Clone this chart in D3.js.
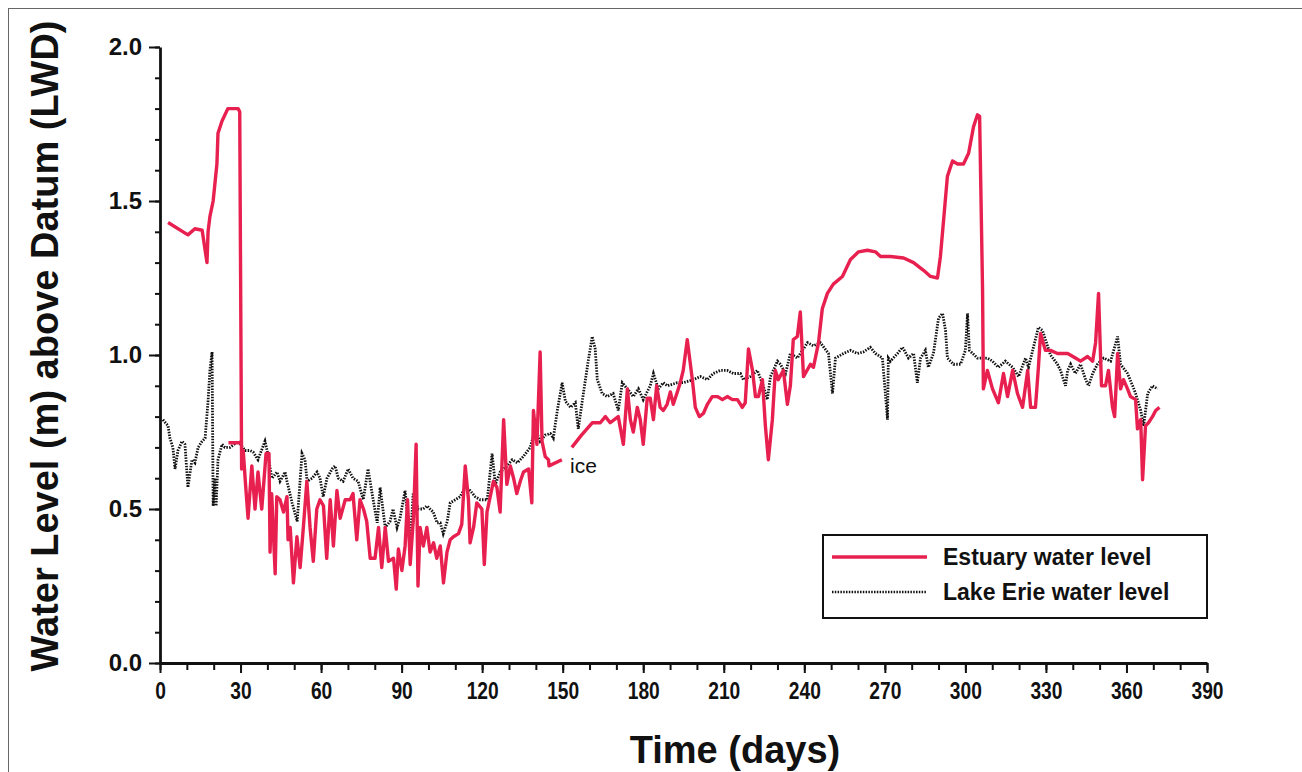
<!DOCTYPE html>
<html>
<head>
<meta charset="utf-8">
<script src="https://cdn.jsdelivr.net/npm/d3@7"></script>
<style>
  body { margin: 0; background: #fff; }
  svg text { font-family: "Liberation Sans", Arial, sans-serif; fill: #111; }
</style>
</head>
<body>
<div id="vis"></div>
<script>
const W = 1302, H = 772;
const margin = { top: 47, left: 160 };

// estuary water level (m above LWD); null = break in the record
const estuaryDay = [
  25.5, 30.0, null,
  3.0, 10.4, 13.0, 15.7, 17.5, 17.9, 18.6, 19.8, 21.2, 21.6, 23.1, 25.3, 29.1, 29.7,
  30.4, 31.0, 31.7, 32.8, 34.2, 35.4, 36.5, 37.9, 39.5, 40.6, 41.0, 41.6, 42.9, 43.5,
  44.7, 46.0, 47.3, 47.7, 48.5, 49.7, 51.0, 52.2, 53.4, 54.7, 55.9, 57.1, 58.4, 59.6,
  60.9, 62.1, 63.4, 64.6, 65.9, 67.1, 69.0, 70.8, 71.9, 73.3, 74.5, 75.8, 77.0, 78.3,
  80.1, 81.4, 82.6, 83.9, 85.1, 87.0, 88.0, 88.8, 90.1, 91.3, 92.2, 93.2, 94.4, 95.4,
  96.1, 96.9, 98.1, 99.4, 100.6, 101.9, 103.1, 104.4, 105.6, 106.9, 108.1, 109.3, 111.2,
  112.4, 113.7, 114.9, 115.5, 116.8, 118.0, 119.9, 120.8, 121.8, 123.0, 124.2, 125.5,
  126.7, 128.0, 129.2, 130.5, 131.7, 132.9, 134.2, 135.4, 137.3, 138.5, 139.1, 140.4,
  141.6, 142.3, 143.5, 144.7, 144.9, 149.7, null,
  153.4, 157.0, 161.0, 164.0, 165.9, 167.7, 170.7, 172.6, 174.1, 175.2, 176.3, 177.8,
  178.9, 180.0, 181.5, 182.6, 183.8, 185.0, 186.3, 187.5, 188.9, 190.1, 191.2, 192.7,
  193.8, 194.9, 196.4, 198.3, 199.4, 200.9, 202.4, 203.9, 205.7, 207.6, 209.5, 211.3,
  213.2, 215.1, 216.9, 218.0, 219.2, 220.7, 221.8, 222.9, 224.4, 225.5, 226.6, 228.1,
  229.2, 230.3, 232.2, 233.7, 234.8, 235.9, 237.4, 238.5, 239.7, 242.3, 243.4, 245.3,
  246.7, 248.6, 250.8, 254.2, 257.2, 260.2, 263.5, 266.5, 268.4, 272.1, 277.0, 280.7,
  284.4, 287.0, 289.6, 290.7, 291.8, 293.3, 295.2, 297.1, 299.3, 301.2, 303.0, 304.5,
  305.3, 306.4, 306.7, 308.2, 310.1, 312.3, 314.2, 315.7, 317.6, 319.4, 321.3, 323.2,
  324.3, 326.1, 327.2, 328.0, 329.8, 331.7, 334.3, 338.1, 341.0, 342.9, 345.5, 347.4,
  348.5, 349.6, 350.7, 352.2, 353.3, 354.8, 355.6, 356.7, 357.8, 358.9, 360.4, 361.5,
  363.4, 364.1, 365.3, 366.0, 367.1, 368.2, 369.7, 370.9, 372.3
];
const estuaryLevel = [
  0.715, 0.715, null,
  1.43, 1.39, 1.41, 1.405, 1.30, 1.40, 1.45, 1.50, 1.62, 1.72, 1.76, 1.80, 1.80, 1.79,
  0.63, 0.69, 0.60, 0.47, 0.64, 0.50, 0.62, 0.50, 0.68, 0.68, 0.36, 0.55, 0.29, 0.54,
  0.53, 0.49, 0.54, 0.40, 0.44, 0.26, 0.41, 0.31, 0.44, 0.59, 0.44, 0.33, 0.50, 0.53,
  0.51, 0.34, 0.53, 0.38, 0.56, 0.47, 0.53, 0.53, 0.55, 0.40, 0.53, 0.50, 0.46, 0.34,
  0.34, 0.44, 0.31, 0.44, 0.33, 0.34, 0.24, 0.37, 0.30, 0.38, 0.53, 0.32, 0.47, 0.71,
  0.25, 0.44, 0.38, 0.44, 0.36, 0.39, 0.34, 0.38, 0.26, 0.36, 0.40, 0.41, 0.42,
  0.45, 0.64, 0.53, 0.39, 0.44, 0.52, 0.50, 0.32, 0.49, 0.54, 0.59, 0.57,
  0.49, 0.79, 0.58, 0.64, 0.60, 0.55, 0.59, 0.62, 0.63, 0.52, 0.82, 0.71,
  1.01, 0.72, 0.67, 0.66, 0.64, 0.66, null,
  0.70, 0.74, 0.78, 0.78, 0.80, 0.78, 0.80, 0.71, 0.89, 0.79, 0.75, 0.83,
  0.79, 0.71, 0.86, 0.86, 0.79, 0.90, 0.83, 0.82, 0.84, 0.88, 0.84, 0.88,
  0.91, 0.95, 1.05, 0.92, 0.83, 0.80, 0.81, 0.84, 0.865, 0.865, 0.855, 0.865,
  0.855, 0.855, 0.83, 0.845, 1.02, 0.95, 0.865, 0.865, 0.92, 0.77, 0.66, 0.79,
  0.95, 0.92, 0.95, 0.84, 0.90, 1.05, 1.06, 1.14, 0.93, 0.97, 0.96, 1.04,
  1.15, 1.20, 1.23, 1.255, 1.31, 1.335, 1.34, 1.335, 1.32, 1.32, 1.315, 1.30,
  1.275, 1.255, 1.25, 1.32, 1.43, 1.58, 1.63, 1.62, 1.62, 1.655, 1.74, 1.78,
  1.775, 1.21, 0.89, 0.95, 0.89, 0.845, 0.94, 0.865, 0.95, 0.875, 0.83, 0.95,
  0.83, 0.83, 0.96, 1.07, 1.015, 1.015, 1.005, 1.005, 0.99, 0.98, 0.995, 0.98,
  1.04, 1.20, 0.90, 0.90, 0.95, 0.83, 0.80, 1.005, 0.89, 0.92, 0.89, 0.865,
  0.855, 0.76, 0.79, 0.595, 0.77, 0.78, 0.80, 0.82, 0.83
];

// Lake Erie water level (m above LWD)
const lakeDay = [
  1.1, 3.0, 3.7, 4.8, 5.6, 6.7, 8.2, 9.3, 10.4, 11.9, 13.0, 14.2, 15.7, 16.8, 17.9,
  18.6, 19.4, 19.8, 20.5, 20.9, 21.6, 23.1, 24.2, 26.1, 29.1, 31.7, 33.5, 34.7, 36.5,
  39.1, 39.9, 41.7, 43.6, 44.7, 46.6, 47.3, 49.2, 51.1, 52.9, 54.0, 54.8, 56.7, 58.5,
  59.6, 60.8, 62.2, 64.1, 65.2, 66.4, 68.2, 70.1, 71.9, 73.8, 75.7, 77.5, 79.4, 80.9,
  82.0, 83.9, 85.7, 86.8, 88.3, 89.4, 91.3, 93.2, 94.3, 96.2, 98.0, 99.5, 100.6, 101.8,
  103.2, 104.4, 105.5, 107.0, 108.1, 110.0, 111.8, 113.7, 115.5, 117.4, 119.3, 121.9,
  123.7, 124.9, 126.7, 129.3, 131.2, 133.1, 135.3, 137.9, 139.8, 141.6, 143.5, 145.4,
  146.5, 148.0, 149.8, 151.0, 152.9, 154.7, 155.8, 157.7, 159.5, 161.0, 162.1, 162.9,
  164.7, 166.6, 168.8, 170.7, 172.2, 174.1, 176.3, 178.2, 180.0, 182.6, 183.8, 185.6,
  187.5, 189.0, 192.7, 194.9, 198.7, 201.3, 203.9, 206.1, 208.7, 211.3, 213.6, 216.2,
  217.3, 219.9, 222.5, 224.7, 226.2, 227.4, 230.0, 231.1, 233.0, 234.8, 237.4, 241.2,
  243.4, 246.0, 249.0, 250.5, 251.6, 254.6, 257.2, 259.8, 262.0, 264.6, 266.5, 269.1,
  271.0, 271.3, 272.1, 274.7, 276.6, 278.8, 280.7, 282.1, 283.3, 285.1, 286.2, 288.1,
  290.0, 291.5, 292.6, 293.3, 295.6, 298.2, 300.0, 300.8, 301.5, 304.5, 308.2, 310.1,
  312.3, 314.9, 317.6, 319.8, 322.4, 323.5, 327.2, 328.7, 331.7, 334.3, 335.4, 337.3,
  338.1, 339.2, 341.0, 342.9, 344.8, 345.9, 347.4, 349.2, 351.5, 354.1, 356.7, 357.8,
  360.4, 362.3, 363.4, 365.3, 366.4, 367.9, 369.7, 371.6
];
const lakeLevel = [
  0.79, 0.77, 0.73, 0.70, 0.63, 0.69, 0.72, 0.71, 0.57, 0.66, 0.65, 0.70, 0.72, 0.73, 0.85,
  0.95, 1.01, 0.51, 0.60, 0.51, 0.66, 0.71, 0.70, 0.70, 0.72, 0.69, 0.69, 0.685, 0.66,
  0.72, 0.69, 0.60, 0.62, 0.59, 0.62, 0.59, 0.52, 0.46, 0.68, 0.66, 0.59, 0.60, 0.62,
  0.60, 0.54, 0.60, 0.63, 0.64, 0.60, 0.59, 0.63, 0.60, 0.59, 0.53, 0.63, 0.53, 0.455,
  0.57, 0.44, 0.46, 0.50, 0.44, 0.47, 0.56, 0.39, 0.55, 0.50, 0.50, 0.51, 0.50, 0.49,
  0.455, 0.455, 0.42, 0.46, 0.52, 0.53, 0.54, 0.57, 0.56, 0.54, 0.53, 0.53,
  0.68, 0.58, 0.62, 0.64, 0.66, 0.65, 0.67, 0.70, 0.76, 0.72, 0.74, 0.745,
  0.73, 0.82, 0.91, 0.85, 0.83, 0.845, 0.76, 0.875, 0.98, 1.06, 1.02, 0.92,
  0.875, 0.865, 0.875, 0.82, 0.91, 0.89, 0.865, 0.89, 0.855, 0.90, 0.94, 0.89,
  0.91, 0.90, 0.91, 0.91, 0.92, 0.93, 0.92, 0.94, 0.95, 0.95, 0.94, 0.94,
  0.92, 0.93, 0.95, 0.90, 0.855, 0.93, 0.98, 0.97, 0.94, 1.005, 0.99, 1.04,
  1.03, 1.04, 1.005, 0.875, 0.99, 1.005, 1.015, 1.005, 1.01, 1.025, 1.005, 0.99,
  0.79, 0.99, 0.98, 1.005, 1.025, 0.99, 1.005, 0.91, 0.99, 1.015, 0.96, 1.005,
  1.12, 1.135, 1.08, 0.99, 0.97, 0.97, 1.015, 1.135, 1.015, 0.99, 0.99, 0.98,
  0.96, 0.98, 0.96, 0.93, 0.99, 0.96, 1.09, 1.08, 1.00, 0.97, 0.95, 0.90,
  0.95, 0.97, 0.94, 0.97, 0.92, 0.90, 0.94, 0.97, 0.99, 0.98, 1.06, 0.97,
  0.94, 0.90, 0.875, 0.82, 0.77, 0.875, 0.90, 0.89
];

const xTicks = [0, 30, 60, 90, 120, 150, 180, 210, 240, 270, 300, 330, 360, 390];
const yTicks = [0.0, 0.5, 1.0, 1.5, 2.0];

const red = "#e8204f";

const svg = d3.select("#vis")
  .append("svg")
  .attr("width", W)
  .attr("height", H);

// scanned page border
svg.append("rect")
  .attr("x", 8.5).attr("y", 8.5)
  .attr("width", 1300).attr("height", 770)
  .attr("fill", "none")
  .attr("stroke", "#666")
  .attr("stroke-width", 1);

const x = d3.scaleLinear().domain([0, 390]).range([margin.left, 1207]);
const y = d3.scaleLinear().domain([0, 2]).range([663, margin.top]);

// minor ticks first, then the labelled ones
svg.append("g")
  .attr("transform", `translate(0,${y(0)})`)
  .call(d3.axisBottom(x).tickValues(d3.range(0, 391, 10)).tickSize(7).tickFormat(""))
  .call(g => g.select(".domain").remove())
  .call(g => g.selectAll("line").attr("stroke", "#111").attr("stroke-width", 2));

svg.append("g")
  .attr("transform", `translate(${x(0)},0)`)
  .call(d3.axisLeft(y).tickValues(d3.range(0, 2.01, 0.1)).tickSize(5).tickFormat(""))
  .call(g => g.select(".domain").remove())
  .call(g => g.selectAll("line").attr("stroke", "#111").attr("stroke-width", 2));

const xAxis = svg.append("g")
  .attr("transform", `translate(0,${y(0)})`)
  .call(d3.axisBottom(x).tickValues(xTicks).tickSize(10).tickSizeOuter(0).tickPadding(9));

const yAxis = svg.append("g")
  .attr("transform", `translate(${x(0)},0)`)
  .call(d3.axisLeft(y).tickValues(yTicks).tickFormat(d3.format(".1f")).tickSize(11).tickSizeOuter(0).tickPadding(7));

[xAxis, yAxis].forEach(g => {
  g.select(".domain").attr("stroke", "#111").attr("stroke-width", 2.8);
  g.selectAll(".tick line").attr("stroke", "#111").attr("stroke-width", 2);
});
// x labels in the figure are a narrow bold face
xAxis.selectAll(".tick text")
  .attr("font-size", 24).attr("font-weight", "bold").attr("fill", "#111")
  .attr("transform", "scale(0.8,1)");
yAxis.selectAll(".tick text")
  .attr("font-size", 24).attr("font-weight", "bold").attr("fill", "#111");

// titles
svg.append("text")
  .attr("x", 735).attr("y", 763)
  .attr("text-anchor", "middle")
  .attr("font-size", 38).attr("font-weight", "bold")
  .text("Time (days)");

svg.append("text")
  .attr("transform", "rotate(-90)")
  .attr("x", -346).attr("y", 58)
  .attr("text-anchor", "middle")
  .attr("font-size", 38).attr("font-weight", "bold")
  .text("Water Level (m) above Datum (LWD)");

// series
const estuary = estuaryDay.map((d, i) => ({ day: d, level: estuaryLevel[i] }));
const lake = lakeDay.map((d, i) => ({ day: d, level: lakeLevel[i] }));

const line = d3.line()
  .defined(d => d.day !== null && d.level !== null)
  .x(d => x(d.day))
  .y(d => y(d.level));

svg.append("path")
  .datum(lake)
  .attr("fill", "none")
  .attr("stroke", "#111")
  .attr("stroke-width", 2.8)
  .attr("stroke-dasharray", "1.5,1.3")
  .attr("d", line);

svg.append("path")
  .datum(estuary)
  .attr("fill", "none")
  .attr("stroke", red)
  .attr("stroke-width", 3.4)
  .attr("stroke-linejoin", "round")
  .attr("d", line);

svg.append("text")
  .attr("x", 570).attr("y", 473)
  .attr("font-size", 21)
  .text("ice");

// legend
const legend = svg.append("g").attr("transform", "translate(823,535)");
legend.append("rect")
  .attr("width", 384).attr("height", 83)
  .attr("fill", "#fff")
  .attr("stroke", "#111").attr("stroke-width", 2);

const legendItems = [
  { label: "Estuary water level", color: red, dash: null, w: 3.4 },
  { label: "Lake Erie water level", color: "#111", dash: "1.5,1.3", w: 2.4 }
];
legendItems.forEach((d, i) => {
  const yy = 22 + i * 35;
  legend.append("line")
    .attr("x1", 9).attr("x2", 104)
    .attr("y1", yy).attr("y2", yy)
    .attr("stroke", d.color)
    .attr("stroke-width", d.w)
    .attr("stroke-dasharray", d.dash);
  legend.append("text")
    .attr("x", 120).attr("y", yy + 8)
    .attr("font-size", 23).attr("font-weight", "bold")
    .text(d.label);
});
</script>
</body>
</html>
